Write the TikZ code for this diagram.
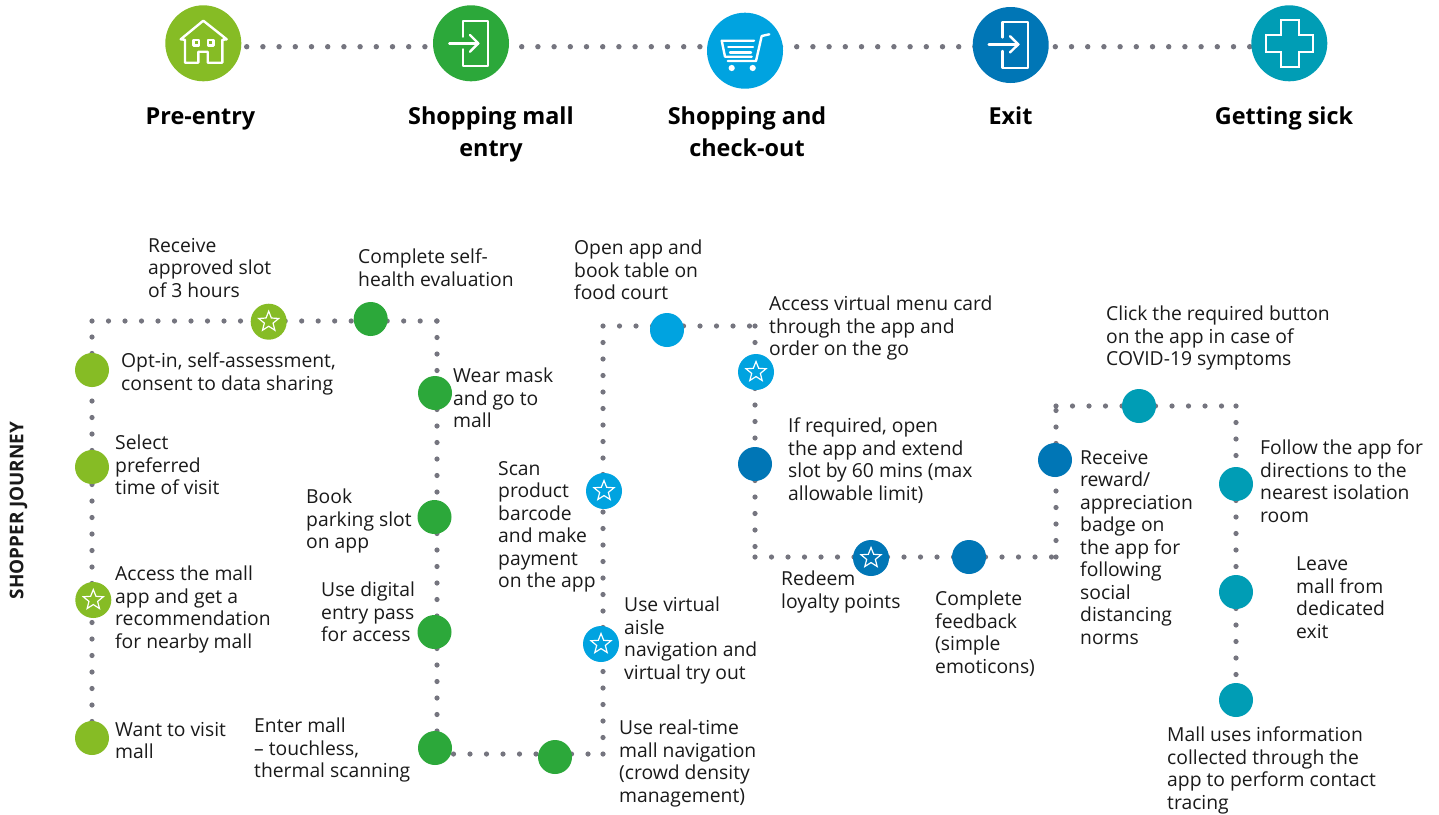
\documentclass[tikz,border=0pt]{standalone}
\usepackage{fontspec}
\setmainfont{Open Sans}
\usetikzlibrary{shapes.geometric,backgrounds}
\definecolor{cLime}{HTML}{86BC25}
\definecolor{cGreen}{HTML}{2CA83A}
\definecolor{cSky}{HTML}{00A3E0}
\definecolor{cDeep}{HTML}{0076B6}
\definecolor{cTeal}{HTML}{009DB5}
\definecolor{cDot}{HTML}{75757F}
\definecolor{cText}{HTML}{1A1A1A}
\tikzset{
  x=1pt,y=-1pt,
  bigdisc/.style={circle,fill=#1,minimum size=76pt,inner sep=0pt,outer sep=0pt},
  stepdot/.style={circle,fill=#1,minimum size=34pt,inner sep=0pt,outer sep=0pt},
  stardot/.style={circle,fill=#1,minimum size=36pt,inner sep=0pt,outer sep=0pt},
  starmark/.style={star,star points=5,star point ratio=2.3,draw=white,line width=1.2pt,minimum size=21pt,inner sep=0pt},
  dotline/.style={draw=cDot,line width=5.2pt,line cap=round,dash pattern=on 0pt off 16.5pt},
  topdots/.style={draw=cDot,line width=5.4pt,line cap=round,dash pattern=on 0pt off 16.2pt},
  icon/.style={draw=white,line width=2.4pt,line cap=round,line join=round},
  stage/.style={font=\fontsize{23.4}{32}\selectfont\bfseries,align=center,anchor=north,inner sep=0pt,text=black,execute at begin node=\strut},
  note/.style={font=\fontsize{19.3}{22.5}\selectfont,align=left,anchor=north west,inner sep=0pt,text=cText,yshift=-2pt,execute at begin node=\strut},
}
\begin{document}
\begin{tikzpicture}
\useasboundingbox (0,0) rectangle (1439,814);
% top row
\node[bigdisc=cLime] (home) at (203.3,43.3) {};
\node[bigdisc=cGreen] (enter) at (471,43.3) {};
\node[bigdisc=cSky] (cart) at (745,50.7) {};
\node[bigdisc=cDeep] (leave) at (1010.7,45) {};
\node[bigdisc=cTeal] (sick) at (1289.3,43.3) {};
\coordinate (topline) at (0,46.7);
% house
\draw[icon] (180.7,39.3) -- (203.3,20.7) -- (226.7,39.3) -- (222.3,39.8) -- (222.3,62.7) -- (207.7,62.7) -- (207.7,51.7) -- (198.3,51.7) -- (198.3,62.7) -- (185,62.7) -- (185,39.8) -- cycle;
\draw[icon] (193.3,40) rectangle (198.7,45.4);
\draw[icon] (208,40) rectangle (213.4,45.4);
% entry door
\draw[icon] (462.7,36.7) -- (462.7,20.7) -- (487.7,20.7) -- (487.7,66) -- (462.7,66) -- (462.7,49.3);
\draw[icon] (449.3,43.3) -- (478.3,43.3);
\draw[icon] (470,35) -- (478.3,43.3) -- (470,51.7);
% cart
\draw[icon] (769.3,34.3) -- (761.7,36) -- (756,61) -- (727.7,61);
\draw[icon] (754,40.7) -- (721.7,40.7) -- (725,56.7) -- (751.7,56.7);
\draw[icon] (728.3,46.7) -- (753,46.7);
\draw[icon] (730,52.3) -- (751,52.3);
\fill[white] (731.7,68) circle (3.1) (752.7,68) circle (3.1);
% exit door
\draw[icon] (1002.3,37.5) -- (1002.3,22) -- (1027.7,22) -- (1027.7,68) -- (1002.3,68) -- (1002.3,51);
\draw[icon] (988.7,44.3) -- (1018.3,44.3);
\draw[icon] (1010,36.2) -- (1018.3,44.3) -- (1010,52.4);
% cross
\draw[icon,line width=2.4pt,line join=miter] (1280.7,20) -- (1298.7,20) -- (1298.7,34.7) -- (1312.7,34.7) -- (1312.7,51.7) -- (1298.7,51.7) -- (1298.7,66.7) -- (1280.7,66.7) -- (1280.7,51.7) -- (1266,51.7) -- (1266,34.7) -- (1280.7,34.7) -- cycle;
% stage labels
\node[stage] (l1) at (200.5,102) {Pre-entry};
\node[stage] (l2) at (491,106.5) {Shopping mall\\entry};
\node[stage] (l3) at (747,106.5) {Shopping and\\check-out};
\node[stage] (l4) at (1010.5,102) {Exit};
\node[stage] (l5) at (1284,102) {Getting sick};
\node[rotate=90,font=\fontsize{18.9}{20}\selectfont\bfseries,text=cText,inner sep=0pt] (side) at (18.5,510.5) {SHOPPER JOURNEY};
% corners
\coordinate (c1) at (92,321);
\coordinate (c2) at (437,321);
\coordinate (c3) at (437,754);
\coordinate (c4) at (603,754);
\coordinate (c5) at (603,326);
\coordinate (c6) at (755,326);
\coordinate (c7) at (755,557);
\coordinate (c8) at (1056,557);
\coordinate (c9) at (1056,406);
\coordinate (c10) at (1236,406);
% step dots
\node[stepdot=cLime] (a1) at (92,738) {};
\node[stardot=cLime] (a2) at (93.3,600) {};
\node[stepdot=cLime] (a3) at (92,467) {};
\node[stepdot=cLime] (a4) at (92,370) {};
\node[stardot=cLime] (a5) at (268.7,321.7) {};
\node[stepdot=cGreen] (b1) at (370.7,319) {};
\node[stepdot=cGreen] (b2) at (435,393) {};
\node[stepdot=cGreen] (b3) at (434.5,517) {};
\node[stepdot=cGreen] (b4) at (434.5,632) {};
\node[stepdot=cGreen] (b5) at (435,748) {};
\node[stepdot=cGreen] (b6) at (555,757) {};
\node[stardot=cSky] (d1) at (601,644) {};
\node[stardot=cSky] (d2) at (604,491) {};
\node[stepdot=cSky] (d3) at (667,330) {};
\node[stardot=cSky] (d4) at (756,372) {};
\node[stepdot=cDeep] (e1) at (755,464) {};
\node[stardot=cDeep] (e2) at (871,558) {};
\node[stepdot=cDeep] (e3) at (969,557) {};
\node[stepdot=cDeep] (e4) at (1055,460) {};
\node[stepdot=cTeal] (f1) at (1139,406) {};
\node[stepdot=cTeal] (f2) at (1236,484) {};
\node[stepdot=cTeal] (f3) at (1236,592) {};
\node[stepdot=cTeal] (f4) at (1236,700) {};
\foreach \n in {a2,a5,d1,d2,d4,e2} \node[starmark] (\n-star) at (\n) {};
% connectors
\begin{scope}[on background layer]
\fill[white] (0,0) rectangle (1439,814);
\draw[topdots,dash phase=5.2pt] (home.center |- topline) -- (enter.center |- topline);
\draw[topdots,dash phase=14.1pt] (enter.center |- topline) -- (cart.center |- topline);
\draw[topdots,dash phase=13.1pt] (cart.center |- topline) -- (leave.center |- topline);
\draw[topdots,dash phase=4pt] (leave.center |- topline) -- (sick.center |- topline);
\foreach \p/\q/\r in {a1/a2/c1,a2/a3/c1,a3/a4/c1,b2/b3/c2,b3/b4/c2,b4/b5/c2,d1/d2/c4,d2/c5/c4,d4/e1/c6,e1/c7/c6,f2/f3/c10,f3/f4/c10}
  \draw[dotline] (\p.center -| \r) -- (\q.center -| \r);
\draw[dotline] (a4.center -| c1) -- (c1);
\draw[dotline] (c1) -- (a5.center |- c1);
\draw[dotline] (a5.center |- c1) -- (b1.center |- c1);
\draw[dotline] (b1.center |- c1) -- (c2);
\draw[dotline] (c2) -- (b2.center -| c2);
\draw[dotline] (b5.center -| c2) -- (c3);
\draw[dotline] (c3) -- (b6.center |- c3);
\draw[dotline] (b6.center |- c3) -- (c4);
\draw[dotline] (c4) -- (d1.center -| c4);
\draw[dotline] (c5) -- (d3.center |- c5);
\draw[dotline] (d3.center |- c5) -- (c6);
\draw[dotline] (c6) -- (d4.center -| c6);
\draw[dotline] (c7) -- (e2.center |- c7);
\draw[dotline] (e2.center |- c7) -- (e3.center |- c7);
\draw[dotline] (e3.center |- c7) -- (c8);
\draw[dotline] (c8) -- (e4.center -| c8);
\draw[dotline] (e4.center -| c8) -- (c9);
\draw[dotline] (c9) -- (f1.center |- c9);
\draw[dotline] (f1.center |- c9) -- (c10);
\draw[dotline] (c10) -- (f2.center -| c10);
\end{scope}
% notes
\node[note] (t1) at (148,236) {Receive\\approved slot\\of 3 hours};
\node[note] (t2) at (358,247) {Complete self-\\health evaluation};
\node[note] (t3) at (121,351) {Opt-in, self-assessment,\\consent to data sharing};
\node[note] (t4) at (115,433) {Select\\preferred\\time of visit};
\node[note] (t5) at (115,564) {Access the mall\\app and get a\\recommendation\\for nearby mall};
\node[note] (t6) at (115,720) {Want to visit\\mall};
\node[note] (t7) at (453,366) {Wear mask\\and go to\\mall};
\node[note] (t8) at (306,487) {Book\\parking slot\\on app};
\node[note] (t9) at (321,580) {Use digital\\entry pass\\for access};
\node[note] (t10) at (254,716) {Enter mall\\– touchless,\\thermal scanning};
\node[note] (t11) at (619,718) {Use real-time\\mall navigation\\(crowd density\\management)};
\node[note] (t12) at (624,595) {Use virtual\\aisle\\navigation and\\virtual try out};
\node[note] (t13) at (498,459) {Scan\\product\\barcode\\and make\\payment\\on the app};
\node[note] (t14) at (574,238) {Open app and\\book table on\\food court};
\node[note] (t15) at (769,294) {Access virtual menu card\\through the app and\\order on the go};
\node[note] (t16) at (788,416) {If required, open\\the app and extend\\slot by 60 mins (max\\allowable limit)};
\node[note] (t17) at (781,569) {Redeem\\loyalty points};
\node[note] (t18) at (935,589) {Complete\\feedback\\(simple\\emoticons)};
\node[note] (t19) at (1080,448) {Receive\\reward/\\appreciation\\badge on\\the app for\\following\\social\\distancing\\norms};
\node[note] (t20) at (1106,304) {Click the required button\\on the app in case of\\COVID-19 symptoms};
\node[note] (t21) at (1260,438) {Follow the app for\\directions to the\\nearest isolation\\room};
\node[note] (t22) at (1296,555) {Leave\\mall from\\dedicated\\exit};
\node[note] (t23) at (1167,725) {Mall uses information\\collected through the\\app to perform contact\\tracing};
\end{tikzpicture}
\end{document}
